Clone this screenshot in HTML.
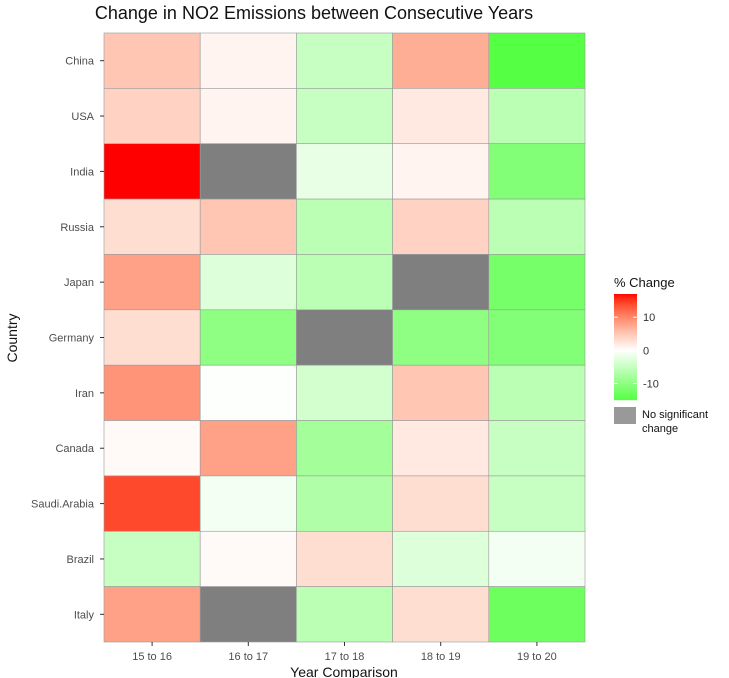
<!DOCTYPE html>
<html><head><meta charset="utf-8"><style>
body{margin:0;background:#fff;font-family:"Liberation Sans",sans-serif;}
svg{display:block}
</style></head><body>
<svg id="c" width="729" height="678"></svg>
<script>
const countries=["China","USA","India","Russia","Japan","Germany","Iran","Canada","Saudi.Arabia","Brazil","Italy"];
const periods=["15 to 16","16 to 17","17 to 18","18 to 19","19 to 20"];
const china=[5,1,-5,7,-15];
const usa=[4,1,-5,2,-6];
const india=[17,null,-2,1,-11];
const russia=[3,5,-6,4,-6];
const japan=[8,-3,-6,null,-12];
const germany=[3,-10,null,-10,-11];
const iran=[9,-0.3,-4,5,-6];
const canada=[0.5,8,-8,2,-5];
const saudi=[14,-1,-7,3,-5];
const brazil=[-5,0.5,3,-3,-1];
const italy=[8,null,-6,3,-13];
const values=[china,usa,india,russia,japan,germany,iran,canada,saudi,brazil,italy];
const legendTicks=[10,0,-10];
const NS="http://www.w3.org/2000/svg";
const svg=document.getElementById("c");
const L=104,R=585,T=33,B=642;
const cw=(R-L)/periods.length, rh=(B-T)/countries.length;
const x=i=>L+i*cw, y=j=>T+j*rh;
const vmax=17,vmin=-15;
function col(v){
 if(v===null)return"#7f7f7f";
 if(v>=0){const t=Math.min(v/vmax,1);const g=Math.round(255*Math.pow(1-t,0.72));const b=Math.round(255*(1-t));return`rgb(255,${g},${b})`;}
 const t=Math.min(v/vmin,1);return`rgb(${Math.round(255-170*t)},255,${Math.round(255-187*t)})`;
}
function el(t,a,txt){const e=document.createElementNS(NS,t);for(const k in a)e.setAttribute(k,a[k]);if(txt!==undefined)e.textContent=txt;svg.appendChild(e);return e;}
let bg=el("rect",{x:L,y:T,width:R-L,height:B-T,fill:"#ebebeb"});


values.forEach((row,j)=>row.forEach((v,i)=>{
 const r=el("rect",{x:x(i),y:y(j),width:cw,height:rh,fill:col(v),stroke:"#999","stroke-width":0.6});
 
 
}));
countries.forEach((c,j)=>{
 const cy=y(j)+rh/2;
 const t=el("text",{x:L-10,y:cy+4,"text-anchor":"end","font-size":11,fill:"#4d4d4d"},c);
 
 
 el("line",{x1:L-4,x2:L,y1:cy,y2:cy,stroke:"#333"});
});
periods.forEach((p,i)=>{
 const cx=x(i)+cw/2;
 const t=el("text",{x:cx,y:B+18,"text-anchor":"middle","font-size":11,fill:"#4d4d4d"},p);
 
 
 el("line",{x1:cx,x2:cx,y1:B,y2:B+4,stroke:"#333"});
});
let tt=el("text",{x:314,y:19,"text-anchor":"middle","font-size":18,fill:"#111"},"Change in NO2 Emissions between Consecutive Years");


let xt=el("text",{x:344,y:677,"text-anchor":"middle","font-size":14,fill:"#111"},"Year Comparison");


let yt=el("text",{x:17,y:338,"text-anchor":"middle","font-size":14,fill:"#111",transform:"rotate(-90 17 338)"},"Country");


let lt=el("text",{x:614,y:287,"font-size":13,fill:"#111"},"% Change");


const lbT=294,lbB=400,lbX=614,lbW=23;
const ly=v=>lbT+(vmax-v)/(vmax-vmin)*(lbB-lbT);
for(let k=0;k<106;k++){
 const v=vmax-(k+0.5)*(vmax-vmin)/106;
 el("rect",{x:lbX,y:lbT+k,width:lbW,height:1.2,fill:col(v)});
}
legendTicks.forEach(v=>{
 const yy=ly(v);
 el("line",{x1:lbX,x2:lbX+4,y1:yy,y2:yy,stroke:"#fff"});
 el("line",{x1:lbX+lbW-4,x2:lbX+lbW,y1:yy,y2:yy,stroke:"#fff"});
 const t=el("text",{x:lbX+29,y:yy+4,"font-size":11,fill:"#333"},String(v));
 
 
});
let ns=el("rect",{x:614,y:407,width:22,height:17,fill:"#999"});


let n1=el("text",{x:642,y:418,"font-size":11,fill:"#111"},"No significant");


el("text",{x:642,y:432,"font-size":11,fill:"#111"},"change");
</script>
</body></html>
